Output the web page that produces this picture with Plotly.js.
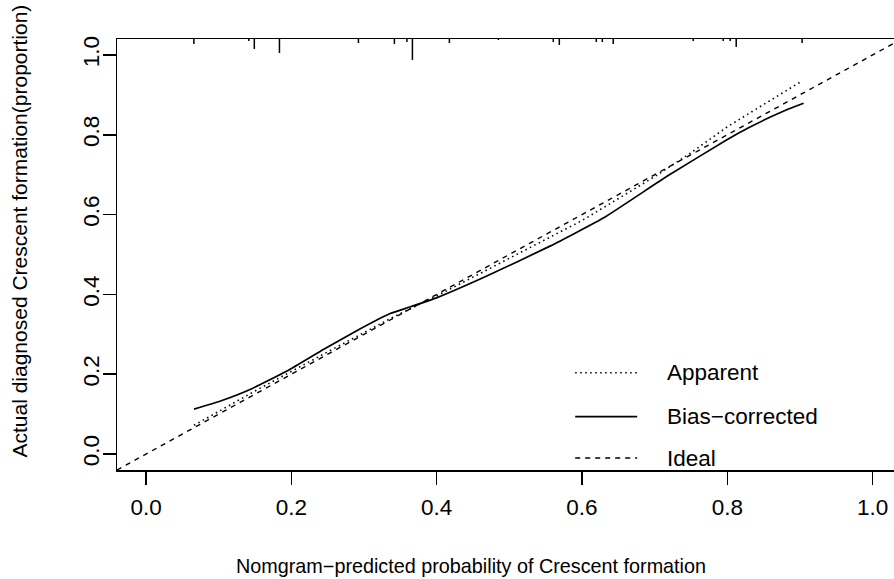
<!DOCTYPE html>
<html>
<head>
<meta charset="utf-8">
<script src="https://cdn.plot.ly/plotly-3.0.1.min.js"></script>
<style>
  html, body { margin: 0; padding: 0; background: #fff; }
  #chart { width: 894px; height: 579px; }
</style>
</head>
<body>
<div id="chart"></div>
<script>
// Calibration curves for the Crescent-formation nomogram
const apparentX = [0.066, 0.15, 0.25, 0.34, 0.40, 0.50, 0.60, 0.70, 0.75, 0.80, 0.85, 0.903];
const apparentY = [0.072, 0.158, 0.256, 0.343, 0.396, 0.490, 0.585, 0.695, 0.755, 0.820, 0.875, 0.935];

const biasX = [0.066, 0.1025, 0.144, 0.194, 0.2446, 0.29, 0.336, 0.364, 0.4005, 0.469, 0.556, 0.630, 0.717, 0.7995, 0.83, 0.86, 0.885, 0.905];
const biasY = [0.1125, 0.133, 0.1625, 0.208, 0.2625, 0.309, 0.352, 0.369, 0.392, 0.446, 0.521, 0.592, 0.696, 0.7875, 0.818, 0.845, 0.865, 0.879];

const idealX = [-0.04, 1.04];
const idealY = [-0.04, 1.04];

// Distribution of predicted probabilities (spike histogram along the top)
const rugX = [0.0658, 0.1414, 0.149, 0.1836, 0.2923, 0.3418, 0.359, 0.3666, 0.4175, 0.4849,
              0.5605, 0.5688, 0.6197, 0.628, 0.643, 0.7531, 0.7944, 0.804, 0.8123, 0.903];
const rugCount = [5, 2, 10, 14, 4, 5, 3, 21, 4, 1, 3, 6, 3, 3, 5, 2, 2, 2, 8, 4];

const xTicks = [0, 0.2, 0.4, 0.6, 0.8, 1.0];
const yTicks = [0, 0.2, 0.4, 0.6, 0.8, 1.0];

const legendLabels = ['Apparent', 'Bias\u2212corrected', 'Ideal'];
const xTitle = 'Nomgram\u2212predicted probability of Crescent formation';
const yTitle = 'Actual diagnosed Crescent formation(proportion)';

// Plot area geometry (pixels)
const W = 894, H = 579;
const L = 116.5, T = 39, B = 470;
const yTop = 1.04;
const spikeUnit = 0.0025;

// Spikes hang down from the top frame
const spikeX = [], spikeY = [];
rugX.forEach((x, i) => {
  spikeX.push(x, x, null);
  spikeY.push(yTop, yTop - rugCount[i] * spikeUnit, null);
});

const font = 'Liberation Sans, Arial, Helvetica, sans-serif';
const tickSize = 22.5;
const legendSize = 22.5;
const xTitleSize = 19.8;
const yTitleSize = 21;

const traces = [
  { x: spikeX, y: spikeY, mode: 'lines', line: { color: '#000', width: 1.5 }, hoverinfo: 'skip', cliponaxis: false },
  { x: apparentX, y: apparentY, mode: 'lines', line: { color: '#000', width: 1.6, dash: '1.5px,3.5px' } },
  { x: biasX, y: biasY, mode: 'lines', line: { color: '#000', width: 1.7, shape: 'spline', smoothing: 0.4 } },
  { x: idealX, y: idealY, mode: 'lines', line: { color: '#000', width: 1.4, dash: '5px,5px' } }
];

// Helpers to place items by pixel position
const px = v => (v - L) / (W - L);
const py = v => (B - v) / (B - T);

const legendRows = [372.7, 416.7, 458];
const legendDash = ['1.5px,3.5px', 'solid', '5px,5px'];
const shapes = legendRows.map((r, i) => ({
  type: 'line', xref: 'paper', yref: 'paper',
  x0: px(575), x1: px(637), y0: py(r), y1: py(r),
  line: { color: '#000', width: i === 1 ? 1.7 : 1.5, dash: legendDash[i] }
}));

const annotations = legendLabels.map((t, i) => ({
  text: t, xref: 'paper', yref: 'paper', x: px(665), y: py(legendRows[i]),
  xanchor: 'left', yanchor: 'middle', showarrow: false,
  font: { family: font, size: legendSize, color: '#000' }
}));

annotations.push({
  text: xTitle, xref: 'paper', yref: 'paper', x: px(471), y: py(566),
  xanchor: 'center', yanchor: 'middle', showarrow: false,
  font: { family: font, size: xTitleSize, color: '#000' }
});
annotations.push({
  text: yTitle, xref: 'paper', yref: 'paper', x: px(18), y: py(231),
  xanchor: 'center', yanchor: 'middle', showarrow: false, textangle: -90,
  font: { family: font, size: yTitleSize, color: '#000' }
});

const layout = {
  width: W, height: H,
  margin: { l: L, r: 0, t: T, b: H - B, pad: 0 },
  paper_bgcolor: '#fff', plot_bgcolor: '#fff',
  showlegend: false,
  font: { family: font, size: tickSize, color: '#000' },
  xaxis: {
    range: [-0.04, -0.04 + (W - L) / 727],
    tickvals: xTicks, tickformat: '.1f',
    ticks: 'outside', ticklen: 13, tickwidth: 1.5, tickcolor: '#000',
    showline: true, linewidth: 1.5, linecolor: '#000', mirror: true,
    showgrid: false, zeroline: false, ticklabelstandoff: 3,
    tickfont: { family: font, size: tickSize, color: '#000' }
  },
  yaxis: {
    range: [-0.04, 1.04],
    tickvals: yTicks, tickformat: '.1f', tickangle: -90,
    ticks: 'outside', ticklen: 13, tickwidth: 1.5, tickcolor: '#000',
    showline: true, linewidth: 1.5, linecolor: '#000', mirror: false,
    showgrid: false, zeroline: false, ticklabelstandoff: -5,
    tickfont: { family: font, size: tickSize, color: '#000' }
  },
  shapes: shapes,
  annotations: annotations
};

Plotly.newPlot('chart', traces, layout, { displayModeBar: false, staticPlot: true });
</script>
</body>
</html>
